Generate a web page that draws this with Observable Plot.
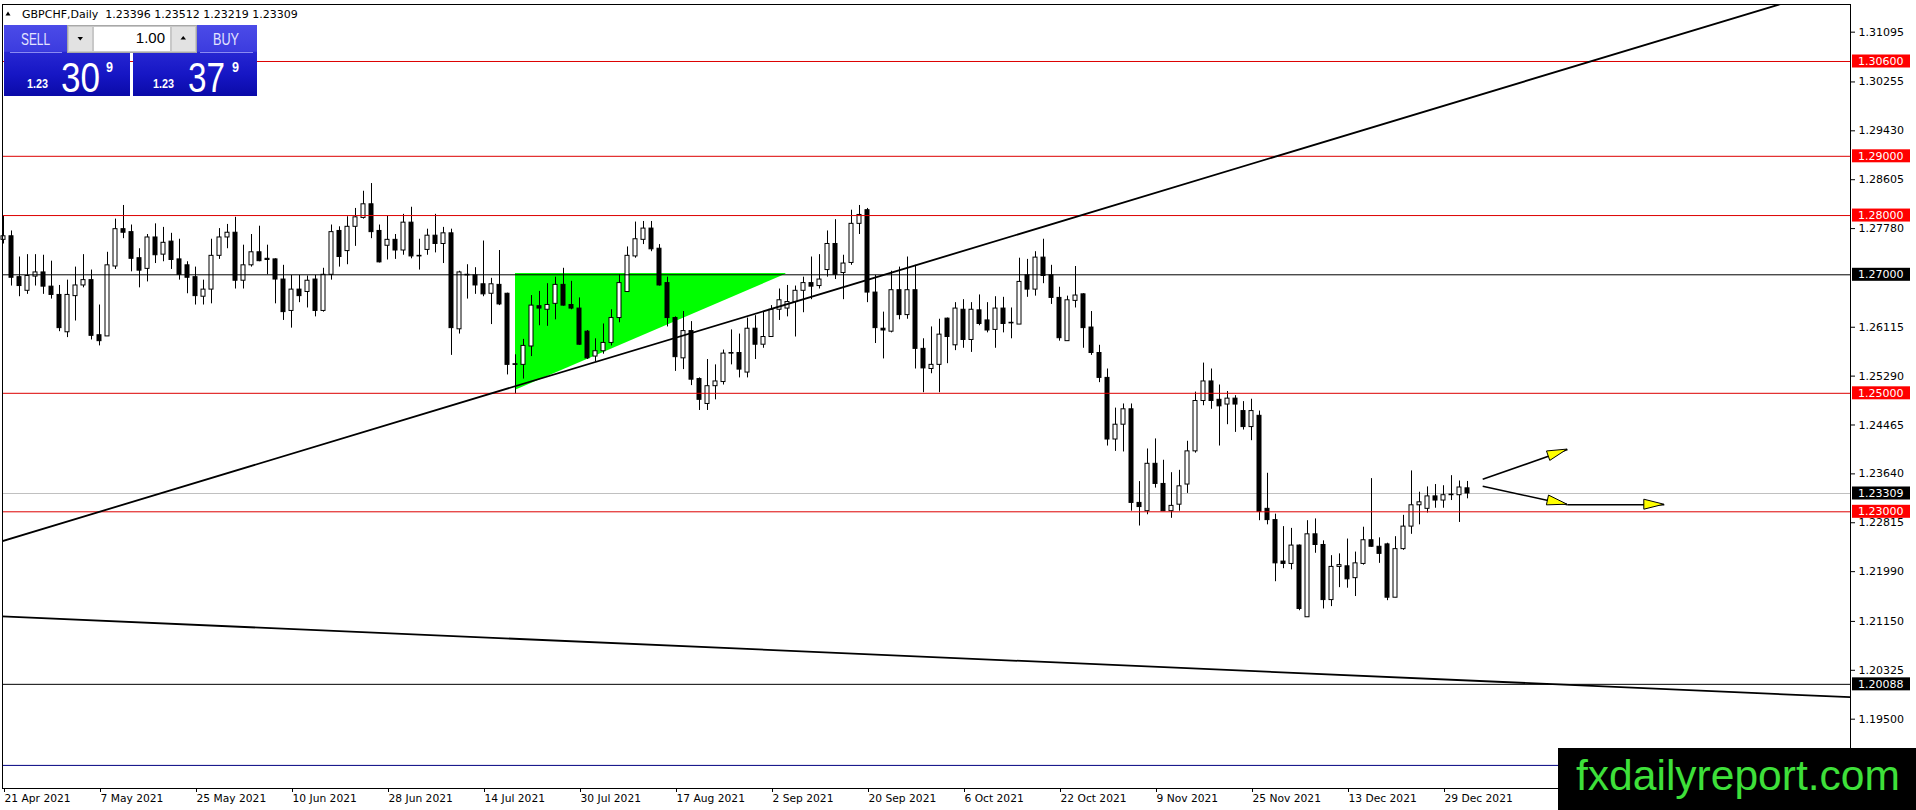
<!DOCTYPE html>
<html><head><meta charset="utf-8">
<script src="https://cdn.jsdelivr.net/npm/d3@7"></script>
<script src="https://cdn.jsdelivr.net/npm/@observablehq/plot@0.6"></script>
<style>
html,body{margin:0;padding:0;background:#fff;overflow:hidden;}
#chart{position:relative;width:1916px;height:810px;}
</style></head><body><div id="chart"></div>
<script>
// ---- Daily GBPCHF candles, bar 0 = 21 Apr 2021 ... bar 183 = 3 Jan 2022 ----
const open = [1.2759,1.2765,1.2696,1.2673,1.2697,1.2704,1.2680,1.2666,1.2603,1.2664,
1.2682,1.2691,1.2598,1.2596,1.2714,1.2777,1.2772,1.2728,1.2710,1.2763,
1.2734,1.2756,1.2726,1.2716,1.2696,1.2663,1.2675,1.2732,1.2763,1.2771,
1.2690,1.2716,1.2738,1.2727,1.2726,1.2692,1.2639,1.2675,1.2671,1.2692,
1.2639,1.2700,1.2774,1.2740,1.2781,1.2796,1.2819,1.2774,1.2749,1.2759,
1.2741,1.2788,1.2732,1.2742,1.2766,1.2752,1.2770,1.2608,1.2700,1.2699,
1.2684,1.2668,1.2683,1.2668,1.2549,1.2548,1.2579,1.2647,1.2641,1.2651,
1.2683,1.2649,1.2643,1.2604,1.2562,1.2571,1.2585,1.2627,1.2671,1.2731,
1.2759,1.2778,1.2744,1.2686,1.2627,1.2559,1.2605,1.2524,1.2482,1.2512,
1.2519,1.2568,1.2568,1.2535,1.2609,1.2582,1.2595,1.2641,1.2643,1.2654,
1.2673,1.2686,1.2681,1.2708,1.2752,1.2703,1.2720,1.2786,1.2809,1.2670,
1.2609,1.2604,1.2674,1.2632,1.2674,1.2575,1.2541,1.2548,1.2626,1.2581,
1.2641,1.2590,1.2640,1.2623,1.2607,1.2643,1.2619,1.2616,1.2699,1.2675,
1.2729,1.2699,1.2661,1.2588,1.2656,1.2667,1.2611,1.2568,1.2526,1.2422,
1.2447,1.2473,1.2315,1.2301,1.2381,1.2347,1.2301,1.2312,1.2346,1.2402,
1.2487,1.2520,1.2489,1.2481,1.2491,1.2470,1.2443,1.2462,1.2305,1.2286,
1.2216,1.2212,1.2243,1.2122,1.2262,1.2244,1.2151,1.2207,1.2208,1.2188,
1.2212,1.2252,1.2241,1.2245,1.2155,1.2237,1.2275,1.2311,1.2305,1.2326,
1.2319,1.2329,1.2328,1.23396];
const high = [1.2799,1.2774,1.2730,1.2734,1.2734,1.2733,1.2723,1.2682,1.2691,1.2713,
1.2734,1.2708,1.2649,1.2738,1.2794,1.2817,1.2784,1.2744,1.2768,1.2786,
1.2780,1.2770,1.2760,1.2722,1.2713,1.2691,1.2760,1.2778,1.2785,1.2797,
1.2750,1.2768,1.2782,1.2750,1.2727,1.2716,1.2699,1.2699,1.2698,1.2699,
1.2711,1.2784,1.2781,1.2798,1.2812,1.2841,1.2854,1.2784,1.2799,1.2768,
1.2802,1.2814,1.2760,1.2777,1.2802,1.2780,1.2777,1.2706,1.2717,1.2712,
1.2757,1.2694,1.2741,1.2669,1.2565,1.2591,1.2665,1.2672,1.2685,1.2696,
1.2711,1.2689,1.2661,1.2606,1.2592,1.2617,1.2641,1.2700,1.2747,1.2789,
1.2790,1.2790,1.2751,1.2696,1.2629,1.2638,1.2621,1.2526,1.2557,1.2548,
1.2573,1.2607,1.2600,1.2627,1.2631,1.2637,1.2648,1.2676,1.2682,1.2681,
1.2696,1.2730,1.2734,1.2774,1.2793,1.2733,1.2809,1.2817,1.2812,1.2699,
1.2637,1.2706,1.2713,1.2730,1.2716,1.2592,1.2612,1.2625,1.2627,1.2653,
1.2658,1.2653,1.2666,1.2653,1.2663,1.2662,1.2644,1.2728,1.2726,1.2739,
1.2760,1.2716,1.2679,1.2664,1.2714,1.2668,1.2638,1.2581,1.2541,1.2475,
1.2482,1.2482,1.2351,1.2406,1.2423,1.2387,1.2366,1.2370,1.2419,1.2502,
1.2551,1.2541,1.2514,1.2503,1.2496,1.2486,1.2490,1.2470,1.2365,1.2296,
1.2275,1.2272,1.2244,1.2285,1.2288,1.2251,1.2226,1.2229,1.2254,1.2232,
1.2274,1.2356,1.2256,1.2247,1.2258,1.2294,1.2369,1.2333,1.2342,1.2346,
1.2344,1.2361,1.2352,1.23512];
const low = [1.2752,1.2681,1.2663,1.2667,1.2681,1.2667,1.2659,1.2604,1.2594,1.2622,
1.2678,1.2590,1.2580,1.2596,1.2709,1.2761,1.2705,1.2678,1.2688,1.2719,
1.2722,1.2709,1.2691,1.2668,1.2649,1.2649,1.2651,1.2726,1.2744,1.2676,
1.2676,1.2713,1.2722,1.2700,1.2651,1.2623,1.2610,1.2653,1.2644,1.2629,
1.2637,1.2691,1.2713,1.2717,1.2748,1.2794,1.2761,1.2720,1.2725,1.2726,
1.2733,1.2727,1.2708,1.2733,1.2737,1.2719,1.2564,1.2600,1.2659,1.2667,
1.2663,1.2616,1.2648,1.2531,1.2499,1.2524,1.2562,1.2614,1.2613,1.2624,
1.2647,1.2641,1.2581,1.2557,1.2553,1.2566,1.2580,1.2619,1.2671,1.2728,
1.2751,1.2739,1.2681,1.2612,1.2537,1.2540,1.2513,1.2471,1.2471,1.2489,
1.2514,1.2548,1.2526,1.2526,1.2557,1.2576,1.2595,1.2623,1.2629,1.2595,
1.2636,1.2658,1.2676,1.2696,1.2692,1.2658,1.2716,1.2768,1.2653,1.2584,
1.2558,1.2602,1.2624,1.2625,1.2541,1.2501,1.2533,1.2501,1.2550,1.2572,
1.2576,1.2569,1.2614,1.2602,1.2576,1.2602,1.2592,1.2616,1.2662,1.2664,
1.2685,1.2650,1.2588,1.2588,1.2644,1.2576,1.2564,1.2518,1.2411,1.2402,
1.2401,1.2301,1.2276,1.2295,1.2340,1.2301,1.2289,1.2301,1.2331,1.2399,
1.2479,1.2473,1.2411,1.2447,1.2434,1.2438,1.2420,1.2285,1.2278,1.2182,
1.2204,1.2202,1.2133,1.2122,1.2230,1.2136,1.2140,1.2172,1.2171,1.2157,
1.2210,1.2240,1.2213,1.2150,1.2155,1.2235,1.2262,1.2278,1.2298,1.2306,
1.2306,1.2319,1.2282,1.23219];
const close = [1.2765,1.2695,1.2681,1.2698,1.2704,1.2680,1.2666,1.2610,1.2666,1.2682,
1.2691,1.2597,1.2588,1.2716,1.2777,1.2771,1.2727,1.2707,1.2763,1.2733,
1.2754,1.2725,1.2700,1.2695,1.2664,1.2675,1.2732,1.2763,1.2771,1.2690,
1.2716,1.2738,1.2723,1.2725,1.2692,1.2637,1.2675,1.2664,1.2690,1.2639,
1.2700,1.2772,1.2730,1.2781,1.2797,1.2819,1.2772,1.2721,1.2759,1.2741,
1.2788,1.2731,1.2731,1.2766,1.2752,1.2770,1.2610,1.2704,1.2699,1.2682,
1.2667,1.2684,1.2650,1.2548,1.2548,1.2580,1.2648,1.2643,1.2649,1.2683,
1.2648,1.2643,1.2582,1.2559,1.2571,1.2585,1.2627,1.2686,1.2732,1.2760,
1.2778,1.2743,1.2682,1.2627,1.2561,1.2605,1.2523,1.2489,1.2512,1.2520,
1.2567,1.2567,1.2540,1.2609,1.2582,1.2595,1.2641,1.2657,1.2654,1.2673,
1.2686,1.2680,1.2692,1.2752,1.2700,1.2719,1.2786,1.2801,1.2670,1.2610,
1.2606,1.2674,1.2632,1.2674,1.2575,1.2542,1.2548,1.2599,1.2595,1.2643,
1.2590,1.2641,1.2617,1.2606,1.2643,1.2617,1.2618,1.2688,1.2675,1.2729,
1.2698,1.2661,1.2593,1.2657,1.2665,1.2610,1.2568,1.2526,1.2422,1.2447,
1.2473,1.2315,1.2308,1.2381,1.2347,1.2301,1.2310,1.2343,1.2402,1.2487,
1.2520,1.2487,1.2478,1.2491,1.2481,1.2443,1.2470,1.2300,1.2286,1.2213,
1.2212,1.2243,1.2136,1.2262,1.2244,1.2151,1.2207,1.2210,1.2186,1.2213,
1.2252,1.2241,1.2229,1.2155,1.2237,1.2275,1.2311,1.2316,1.2326,1.2319,
1.2328,1.2328,1.2341,1.23309];

// ---- axis ticks ----
const dateTickBars = [0,12,24,36,48,60,72,84,96,108,120,132,144,156,168,180];
const dateTickLabels = ["21 Apr 2021","7 May 2021","25 May 2021","10 Jun 2021","28 Jun 2021","14 Jul 2021","30 Jul 2021","17 Aug 2021","2 Sep 2021","20 Sep 2021","6 Oct 2021","22 Oct 2021","9 Nov 2021","25 Nov 2021","13 Dec 2021","29 Dec 2021"];
const priceTicks = [1.31095,1.30255,1.29430,1.28605,1.27780,1.26115,1.25290,1.24465,1.23640,1.22815,1.21990,1.21150,1.20325,1.19500];

// ---- drawn objects (bar index, price) ----
const redLevels = [1.30600,1.29000,1.28000,1.25000,1.23000];
const blackLevels = [1.27000,1.20088];
const bidLevel = [1.23309];
const blueLevel = [1.1872];
const upTrend = [[-1,1.2247],[230,1.3189]];
const downTrend = [[-1,1.2124],[231,1.1987]];
const triangle = [{x:64,y1:1.2505,y2:1.2702},{x:97.8,y1:1.2701,y2:1.2702}];
const arrows = [[184.9,1.2355,195.5,1.2405],[184.9,1.2343,195.5,1.2312],[195.5,1.2312,207.6,1.2312]];
const header = "GBPCHF,Daily  1.23396 1.23512 1.23219 1.23309";

const candles = open.map((o,i)=>({i, open:o, high:high[i], low:low[i], close:close[i]}));
const fmt = d3.format(".5f");
const F = "DejaVu Sans";

const plot = Plot.plot({
  width:1916, height:810,
  marginLeft:2, marginRight:66, marginTop:4, marginBottom:22,
  x:{domain:[-0.125,230.875]},
  y:{domain:[1.18330,1.31562]},
  style:{background:"white", fontFamily:F},
  marks:[
    Plot.areaY(triangle,{x:"x",y1:"y1",y2:"y2",fill:"#00ff00"}),
    Plot.ruleY(bidLevel,{stroke:"#c0c0c0"}),
    Plot.ruleX(candles,{x:"i",y1:"low",y2:"high",stroke:"black",strokeWidth:1}),
    Plot.rect(candles,{filter:d=>d.close>d.open,x1:d=>d.i-0.25,x2:d=>d.i+0.25,y1:"open",y2:"close",fill:"white",stroke:"black",strokeWidth:1}),
    Plot.rect(candles,{filter:d=>d.close<=d.open,x1:d=>d.i-0.25,x2:d=>d.i+0.25,y1:"open",y2:"close",fill:"black",stroke:"black",strokeWidth:1}),
    Plot.ruleY(redLevels,{stroke:"#dd0000"}),
    Plot.ruleY(blackLevels,{stroke:"black"}),
    Plot.ruleY(blueLevel,{stroke:"#000080"}),
    Plot.line(upTrend,{x:d=>d[0],y:d=>d[1],stroke:"black",strokeWidth:1.8,clip:true}),
    Plot.line(downTrend,{x:d=>d[0],y:d=>d[1],stroke:"black",strokeWidth:1.8,clip:true}),
    Plot.link(arrows,{x1:d=>d[0],y1:d=>d[1],x2:d=>d[2],y2:d=>d[3],stroke:"black",strokeWidth:1.6}),
    Plot.frame({stroke:"black"}),
    Plot.axisX(dateTickBars,{anchor:"bottom",tickSize:4,tickPadding:2,textAnchor:"start",dx:1,
      tickFormat:d=>dateTickLabels[dateTickBars.indexOf(d)],fontSize:10.7,fontFamily:F,label:null}),
    Plot.axisY(priceTicks,{anchor:"right",tickSize:4,tickPadding:4,tickFormat:fmt,fontSize:11,fontFamily:F,label:null})
  ]
});
document.getElementById("chart").appendChild(plot);

const sx = plot.scale("x"), sy = plot.scale("y");
const X = v=>sx.apply(v), Y = v=>sy.apply(v);
const svg = d3.select(plot);

// arrowheads
for (const a of arrows){
  const x1=X(a[0]),y1=Y(a[1]),x2=X(a[2]),y2=Y(a[3]);
  const ang=Math.atan2(y2-y1,x2-x1), L=20, W=5;
  const bx=x2-L*Math.cos(ang), by=y2-L*Math.sin(ang);
  const px=-Math.sin(ang)*W, py=Math.cos(ang)*W;
  svg.append("path").attr("d",`M${x2},${y2}L${bx+px},${by+py}L${bx-px},${by-py}Z`)
    .attr("fill","#ffff00").attr("stroke","black").attr("stroke-width",1);
}

// highlighted price labels on the axis
const boxes = [...redLevels.map(p=>[p,"#ff0000"]),...blackLevels.map(p=>[p,"#000000"]),...bidLevel.map(p=>[p,"#000000"])];
for (const [p,c] of boxes){
  const y=Y(p);
  svg.append("rect").attr("x",1852).attr("y",y-6.5).attr("width",58).attr("height",13).attr("fill",c);
  svg.append("text").attr("x",1858).attr("y",y).attr("dy","0.36em").attr("fill","white")
    .attr("text-anchor","start").attr("font-family",F).attr("font-size",11).text(fmt(p));
}

// header
svg.append("path").attr("d","M5.5,15.5L10.5,15.5L8,11.5Z").attr("fill","black");
svg.append("text").attr("x",22).attr("y",17.5).attr("font-family",F).attr("font-size",11)
  .attr("text-anchor","start").style("white-space","pre").attr("fill","black").text(header);

// one-click trading panel
const defs = svg.append("defs");
const gr = defs.append("linearGradient").attr("id","pg").attr("x1",0).attr("y1",0).attr("x2",0).attr("y2",1);
[[0,"#4b4be8"],[0.37,"#3c3cdf"],[0.385,"#2626d2"],[0.7,"#1616c4"],[1,"#0a0aa8"]].forEach(([o,c])=>gr.append("stop").attr("offset",o).attr("stop-color",c));
const pg = svg.append("g");
pg.append("rect").attr("x",4).attr("y",25).attr("width",126).attr("height",71).attr("fill","url(#pg)");
pg.append("rect").attr("x",133).attr("y",25).attr("width",124).attr("height",71).attr("fill","url(#pg)");
pg.append("line").attr("x1",10).attr("x2",62).attr("y1",52.5).attr("y2",52.5).attr("stroke","#8a8af2");
pg.append("line").attr("x1",200).attr("x2",253).attr("y1",52.5).attr("y2",52.5).attr("stroke","#8a8af2");
pg.append("rect").attr("x",67.5).attr("y",25.5).attr("width",129).attr("height",27).attr("fill","#f0f0f0").attr("stroke","#a8a8a8");
pg.append("rect").attr("x",68.5).attr("y",26.5).attr("width",24).attr("height",25).attr("fill","#e2e2e2").attr("stroke","#c8c8c8");
pg.append("rect").attr("x",93.5).attr("y",26.5).attr("width",77).attr("height",25).attr("fill","#ffffff").attr("stroke","#c8c8c8");
pg.append("rect").attr("x",171.5).attr("y",26.5).attr("width",24).attr("height",25).attr("fill","#e2e2e2").attr("stroke","#c8c8c8");
pg.append("path").attr("d","M77.5,37L83,37L80.25,40.5Z").attr("fill","black");
pg.append("path").attr("d","M180.5,39.5L186,39.5L183.25,36Z").attr("fill","black");
const T=(x,y,s,txt,opt={})=>{const t=pg.append("text").attr("x",x).attr("y",y).attr("font-family","Liberation Sans")
  .attr("font-size",s).attr("fill",opt.fill||"white").attr("text-anchor",opt.anchor||"start").text(txt);
  if(opt.len) t.attr("textLength",opt.len).attr("lengthAdjust","spacingAndGlyphs");
  if(opt.bold) t.attr("font-weight","bold");
  return t;};
T(165,42.5,15,"1.00",{fill:"black",anchor:"end"});
T(21,45,16,"SELL",{fill:"#e4e4ff",len:29});
T(213,45,16,"BUY",{fill:"#e4e4ff",len:26});
T(27,88,13,"1.23",{bold:true,len:21});
T(61,92,42,"30",{len:39});
T(106,72,14,"9",{bold:true,len:7});
T(153,88,13,"1.23",{bold:true,len:21});
T(188,92,42,"37",{len:37});
T(232,72,14,"9",{bold:true,len:7});

// watermark
svg.append("rect").attr("x",1558).attr("y",748).attr("width",358).attr("height",62).attr("fill","black");
svg.append("text").attr("x",1576).attr("y",790).attr("font-family","Liberation Sans").attr("font-size",43)
  .attr("text-anchor","start").attr("fill","#3ee03a").attr("textLength",324).attr("lengthAdjust","spacingAndGlyphs").text("fxdailyreport.com");
</script></body></html>
